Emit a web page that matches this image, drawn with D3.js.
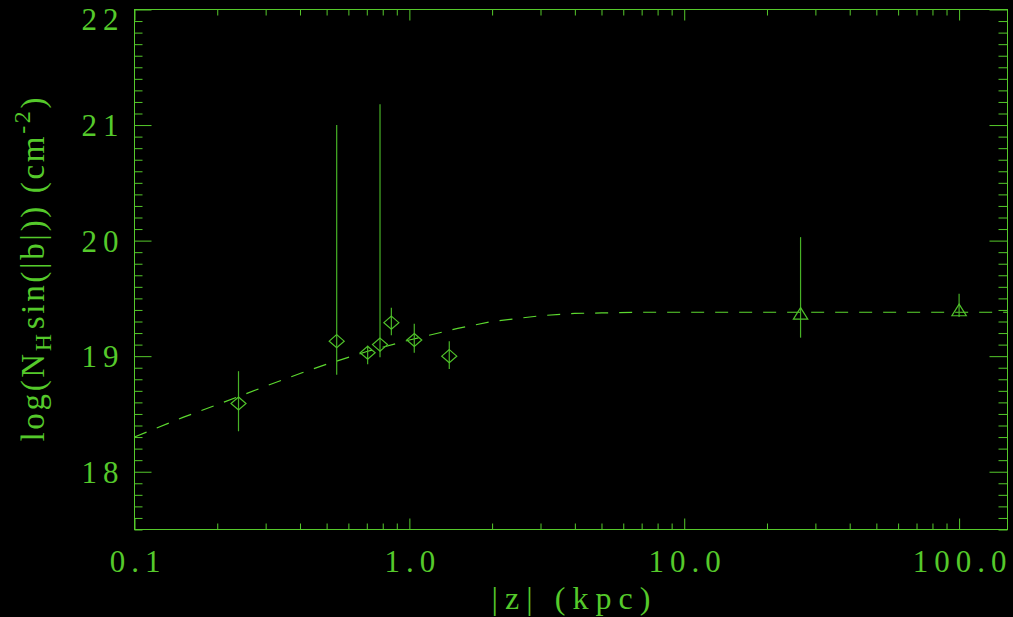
<!DOCTYPE html>
<html>
<head>
<meta charset="utf-8">
<script src="https://cdn.jsdelivr.net/npm/d3@7/dist/d3.min.js"></script>
<style>
  body { margin: 0; background: #000; }
  svg { display: block; }
  .tick text, .lbl { font-family: "Liberation Serif", "DejaVu Serif", serif; fill: #55c92b; }
</style>
</head>
<body>
<div id="chart"></div>
<script>
// data
// diamonds: |z| (kpc), log(N_H sin|b|), error bar top/bottom
var zDiamond  = [0.239, 0.544, 0.705, 0.782, 0.860, 1.042, 1.397];
var nDiamond  = [18.59, 19.13, 19.03, 19.10, 19.29, 19.14, 19.00];
var hiDiamond = [18.87, 21.00, 19.09, 21.18, 19.42, 19.28, 19.13];
var loDiamond = [18.35, 18.84, 18.93, 18.99, 19.18, 19.03, 18.89];

// triangles
var zTriangle  = [26.5, 100];
var nTriangle  = [19.37, 19.40];
var hiTriangle = [20.03, 19.54];
var loTriangle = [19.16, 19.34];

// dashed model curve
var zModel = [0.1, 0.15, 0.2, 0.3, 0.4, 0.5, 0.7, 1.0, 1.5, 2, 3, 4, 5, 7, 10, 20, 50, 150];
var nModel = [18.30, 18.47, 18.58, 18.74, 18.85, 18.93, 19.04, 19.14, 19.24, 19.30, 19.35, 19.37, 19.374, 19.38, 19.38, 19.38, 19.38, 19.38];

// axis ticks
var xMajor = [0.1, 1, 10, 100];
var xLabels = ["0.1", "1.0", "10.0", "100.0"];
var yMajor = [18, 19, 20, 21, 22];

var svgWidth = 1013;
var svgHeight = 617;
var x0 = 134.5, x1 = 1007.5, y0 = 9.5, y1 = 529.5;
var green = "#55c92b";

var svg = d3.select("#chart")
            .append("svg")
            .attr("width", svgWidth)
            .attr("height", svgHeight)
            .style("background", "#000");

var x = d3.scaleLog().domain([0.1, 150]).range([x0, x1]);
var y = d3.scaleLinear().domain([17.5, 22]).range([y1, y0]);

// minor tick positions
var xMinor = [];
[0.1, 1, 10, 100].forEach(function(d) {
  d3.range(2, 10).forEach(function(k) {
    var v = +(d * k).toPrecision(3);
    if (v < 150) xMinor.push(v);
  });
});
var yMinor = d3.range(175, 221).map(d => d / 10).filter(d => yMajor.indexOf(d) < 0);

// frame
svg.append("rect")
   .attr("x", x0).attr("y", y0)
   .attr("width", x1 - x0).attr("height", y1 - y0)
   .attr("fill", "none").attr("stroke", green).attr("stroke-width", 1);

function styleAxis(g) {
  g.select(".domain").remove();
  g.selectAll("line").attr("stroke", green);
}

// bottom axis
svg.append("g")
   .attr("transform", `translate(0,${y1})`)
   .call(d3.axisBottom(x).tickValues(xMinor).tickFormat("").tickSizeInner(-6).tickSizeOuter(0))
   .call(styleAxis);
var bottom = svg.append("g")
   .attr("transform", `translate(0,${y1})`)
   .call(d3.axisBottom(x).tickValues(xMajor).tickFormat((d, i) => xLabels[i])
          .tickSizeInner(-11).tickSizeOuter(0).tickPadding(20))
   .call(styleAxis);
bottom.selectAll("text")
      .attr("font-size", 31).attr("letter-spacing", "6px").attr("dx", 3)
      .attr("fill", green);

// top axis
svg.append("g")
   .attr("transform", `translate(0,${y0})`)
   .call(d3.axisTop(x).tickValues(xMinor).tickFormat("").tickSizeInner(-6).tickSizeOuter(0))
   .call(styleAxis);
svg.append("g")
   .attr("transform", `translate(0,${y0})`)
   .call(d3.axisTop(x).tickValues(xMajor).tickFormat("").tickSizeInner(-11).tickSizeOuter(0))
   .call(styleAxis);

// left axis
svg.append("g")
   .attr("transform", `translate(${x0},0)`)
   .call(d3.axisLeft(y).tickValues(yMinor).tickFormat("").tickSizeInner(-8).tickSizeOuter(0))
   .call(styleAxis);
var left = svg.append("g")
   .attr("transform", `translate(${x0},0)`)
   .call(d3.axisLeft(y).tickValues(yMajor).tickFormat(d3.format("d"))
          .tickSizeInner(-17).tickSizeOuter(0).tickPadding(10))
   .call(styleAxis);
left.selectAll("text")
    .attr("font-size", 31).attr("letter-spacing", "6px")
    .attr("fill", green)
    .attr("dy", d => d === 22 ? "0.64em" : "0.34em");

// right axis
svg.append("g")
   .attr("transform", `translate(${x1},0)`)
   .call(d3.axisRight(y).tickValues(yMinor).tickFormat("").tickSizeInner(-9).tickSizeOuter(0))
   .call(styleAxis);
svg.append("g")
   .attr("transform", `translate(${x1},0)`)
   .call(d3.axisRight(y).tickValues(yMajor).tickFormat("").tickSizeInner(-18).tickSizeOuter(0))
   .call(styleAxis);

// axis titles
svg.append("text")
   .attr("class", "lbl")
   .attr("x", (x0 + x1) / 2).attr("y", 609)
   .attr("text-anchor", "middle")
   .attr("font-size", 32)
   .attr("textLength", 159).attr("lengthAdjust", "spacing")
   .text("|z| (kpc)");

var yTitle = svg.append("text")
   .attr("class", "lbl")
   .attr("transform", `translate(44,${(y0 + y1) / 2}) rotate(-90)`)
   .attr("text-anchor", "middle")
   .attr("font-size", 33)
   .attr("textLength", 344).attr("lengthAdjust", "spacing");
yTitle.append("tspan").text("log(N");
yTitle.append("tspan").attr("font-size", 24).attr("dy", 7).text("H");
yTitle.append("tspan").attr("dy", -7).attr("dx", 2).text("sin(|b|))  (cm");
yTitle.append("tspan").attr("font-size", 24).attr("dy", -14).text("-2");
yTitle.append("tspan").attr("dy", 14).text(")");

// model curve
var line = d3.line()
             .x((d, i) => x(zModel[i]))
             .y(d => y(d));
svg.append("path")
   .datum(nModel)
   .attr("d", line)
   .attr("fill", "none")
   .attr("stroke", "#5cd82f")
   .attr("stroke-width", 1.2)
   .attr("stroke-dasharray", "13,11");

// error bars
var barColor = "#47b226";
svg.selectAll(".errD")
   .data(zDiamond)
   .enter()
   .append("line")
   .attr("x1", d => x(d)).attr("x2", d => x(d))
   .attr("y1", (d, i) => y(hiDiamond[i]))
   .attr("y2", (d, i) => y(loDiamond[i]))
   .attr("stroke", barColor).attr("stroke-width", 1.2);

svg.selectAll(".errT")
   .data(zTriangle)
   .enter()
   .append("line")
   .attr("x1", d => x(d)).attr("x2", d => x(d))
   .attr("y1", (d, i) => y(hiTriangle[i]))
   .attr("y2", (d, i) => y(loTriangle[i]))
   .attr("stroke", barColor).attr("stroke-width", 1.2);

// diamonds
svg.selectAll(".diamond")
   .data(zDiamond)
   .enter()
   .append("path")
   .attr("transform", (d, i) => `translate(${x(d)},${y(nDiamond[i])})`)
   .attr("d", "M0,-6.5L7.5,0L0,6.5L-7.5,0Z")
   .attr("fill", "none")
   .attr("stroke", "#4fc22a").attr("stroke-width", 1.2);

// triangles
svg.selectAll(".triangle")
   .data(zTriangle)
   .enter()
   .append("path")
   .attr("transform", (d, i) => `translate(${x(d)},${y(nTriangle[i])})`)
   .attr("d", "M0,-5.8L7.2,5.8L-7.2,5.8Z")
   .attr("fill", "none")
   .attr("stroke", "#4fc22a").attr("stroke-width", 1.2);
</script>
</body>
</html>
